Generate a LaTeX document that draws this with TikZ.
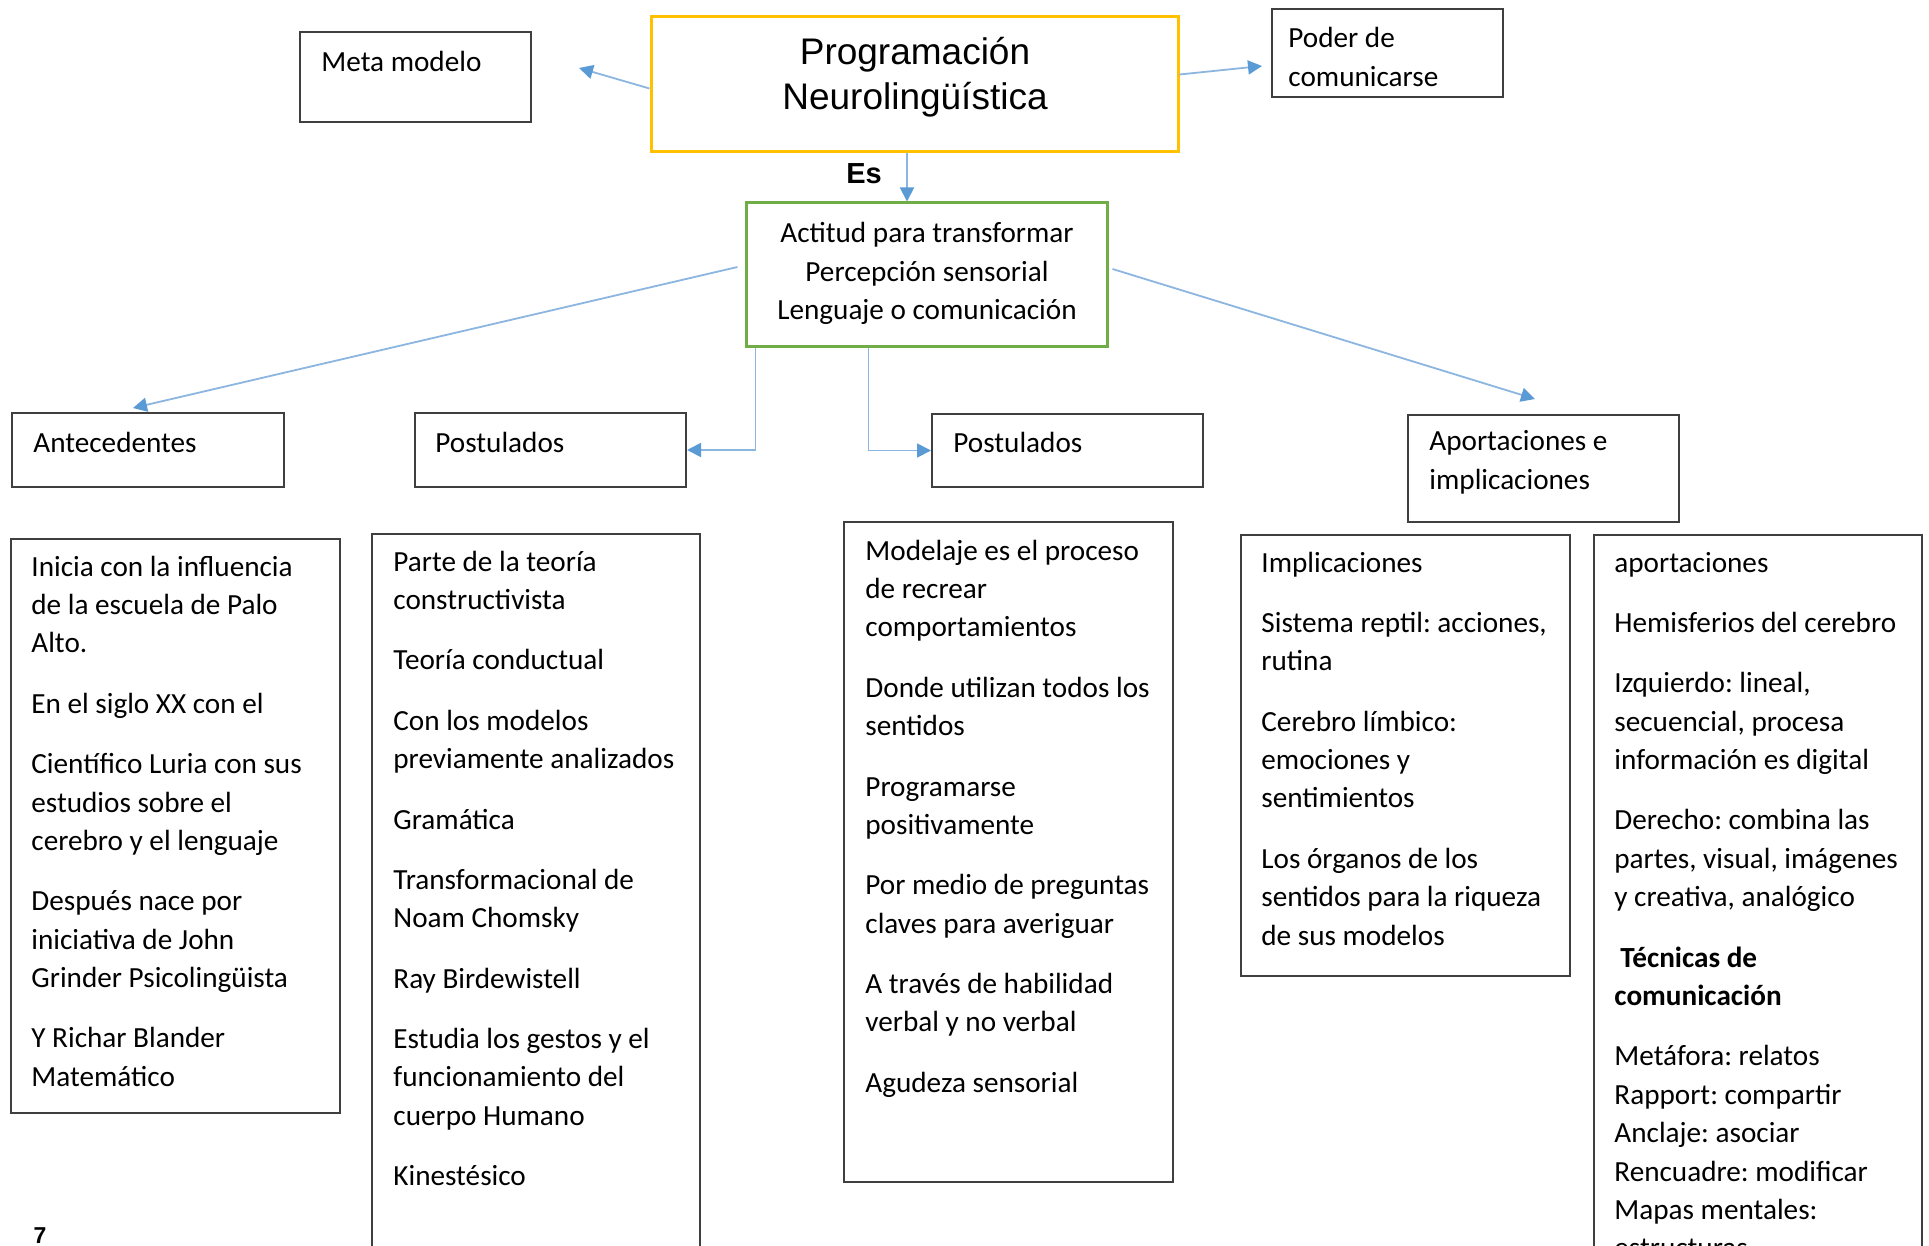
\documentclass[tikz,border=0pt]{standalone}
\usepackage{fontspec}
\setmainfont{Carlito}
\newfontfamily\arialf{Liberation Sans}
\usetikzlibrary{arrows.meta,fit}
\definecolor{boxline}{HTML}{3F3F3F}
\definecolor{titleyellow}{HTML}{FFC000}
\definecolor{midgreen}{HTML}{70AD47}
\definecolor{linkblue}{HTML}{8CB6E0}
\definecolor{tipblue}{HTML}{5B9BD5}
\newcommand{\bodysize}{\fontsize{14.6}{19.2}\selectfont}
\newcommand{\mypgap}{\\[11pt]}
\frenchspacing
\begin{document}
\begin{tikzpicture}[x=0.5pt,y=-0.5pt,
  frame/.style={draw=boxline, line width=1pt, inner sep=0pt},
  textblock/.style={anchor=base west, inner sep=0pt, font=\bodysize},
  link/.style={draw=linkblue, line width=0.9pt, -{Triangle[length=7pt,width=7pt,color=tipblue]}}]
\useasboundingbox (0,0) rectangle (1929,1246);
\clip (0,0) rectangle (1929,1246);
\fill[white] (0,0) rectangle (1929,1246);

% boxes
\node[draw=titleyellow, line width=1.5pt, inner sep=0pt, fit={(651,17) (1178,152)}] (title) {};
\node[draw=midgreen, line width=1.5pt, inner sep=0pt, fit={(746,203) (1107,347)}] (green) {};
\node[frame, fit={(300,32) (531,122)}] (meta) {};
\node[frame, fit={(1272,9) (1503,97)}] (poder) {};
\node[frame, fit={(12,413) (284,487)}] (ant) {};
\node[frame, fit={(415,413) (686,487)}] (post1) {};
\node[frame, fit={(932,414) (1203,487)}] (post2) {};
\node[frame, fit={(1408,415) (1679,522)}] (aport) {};
\node[frame, fit={(11,539) (340,1113)}] (boxA) {};
\node[frame, fit={(372,534) (700,1252)}] (boxB) {};
\node[frame, fit={(844,522) (1173,1182)}] (boxC) {};
\node[frame, fit={(1241,535) (1570,976)}] (boxD) {};
\node[frame, fit={(1594,535) (1922,1262)}] (boxE) {};

% texts
\node[anchor=base, inner sep=0pt, font=\arialf\fontsize{18.5}{22.5}\selectfont] (titletext) at (915,65)
  {\parbox[t]{300pt}{\centering Programación\\Neurolingüística}};
\node[anchor=base, inner sep=0pt, font=\bodysize] (greentext) at (927,243)
  {\parbox[t]{300pt}{\centering Actitud para transformar\\Percepción sensorial\\Lenguaje o comunicación}};
\node[anchor=base, inner sep=0pt, font=\arialf\bfseries\fontsize{14.5}{16}\selectfont] (es) at (864,184) {Es};
\node[textblock] (metatext) at (321,72) {Meta modelo};
\node[textblock] (podertext) at (1288,48) {\parbox[t]{200pt}{Poder de\\comunicarse}};
\node[textblock] (anttext) at (33,452) {Antecedentes};
\node[textblock] (post1text) at (435,452) {Postulados};
\node[textblock] (post2text) at (953,452) {Postulados};
\node[textblock] (aporttext) at (1429,451) {\parbox[t]{200pt}{Aportaciones e\\implicaciones}};

\node[textblock] (textA) at (31,576) {\parbox[t]{300pt}{\raggedright
Inicia con la influencia\\de la escuela de Palo\\Alto.\mypgap
En el siglo XX con el\mypgap
Científico Luria con sus\\estudios sobre el\\cerebro y el lenguaje\mypgap
Después nace por\\iniciativa de John\\Grinder Psicolingüista\mypgap
Y Richar Blander\\Matemático}};

\node[textblock] (textB) at (393,571) {\parbox[t]{300pt}{\raggedright
Parte de la teoría\\constructivista\mypgap
Teoría conductual\mypgap
Con los modelos\\previamente analizados\mypgap
Gramática\mypgap
Transformacional de\\Noam Chomsky\mypgap
Ray Birdewistell\mypgap
Estudia los gestos y el\\funcionamiento del\\cuerpo Humano\mypgap
Kinestésico}};

\node[textblock] (textC) at (865,560) {\parbox[t]{300pt}{\raggedright
Modelaje es el proceso\\de recrear\\comportamientos\mypgap
Donde utilizan todos los\\sentidos\mypgap
Programarse\\positivamente\mypgap
Por medio de preguntas\\claves para averiguar\mypgap
A través de habilidad\\verbal y no verbal\mypgap
Agudeza sensorial}};

\node[textblock] (textD) at (1261,572) {\parbox[t]{300pt}{\raggedright
Implicaciones\mypgap
Sistema reptil: acciones,\\rutina\mypgap
Cerebro límbico:\\emociones y\\sentimientos\mypgap
Los órganos de los\\sentidos para la riqueza\\de sus modelos}};

\node[textblock] (textE) at (1614,572) {\parbox[t]{300pt}{\raggedright
aportaciones\mypgap
Hemisferios del cerebro\mypgap
Izquierdo: lineal,\\secuencial, procesa\\información es digital\mypgap
Derecho: combina las\\partes, visual, imágenes\\y creativa, analógico\mypgap
\hspace*{3pt}\textbf{Técnicas de}\\\textbf{comunicación}\mypgap
Metáfora: relatos\\Rapport: compartir\\Anclaje: asociar\\Rencuadre: modificar\\Mapas mentales:\\estructuras}};

\node[anchor=base, inner sep=0pt, font=\arialf\bfseries\fontsize{11.5}{13}\selectfont] (pagenum) at (40,1243) {7};

% connectors
\coordinate (metatip) at (579,68);
\coordinate (podertip) at (1262,66);
\coordinate (esx) at (907,0);
\coordinate (anttip) at (133,408);
\coordinate (aporttip) at (1535,399);
\draw[link] ([shift={(0,4)}]title.west) -- (metatip);
\draw[link] ([shift={(0,-10)}]title.east) -- (podertip);
\draw[link] (title.south -| esx) -- (green.north -| esx);
\draw[link] ([shift={(-7,-8)}]green.west) -- (anttip);
\draw[link] ([shift={(4,-6)}]green.east) -- (aporttip);
\draw[link] ([shift={(-171,0)}]green.south) |- (post1.east);
\draw[link] ([shift={(-58,0)}]green.south) |- (post2.west);
\end{tikzpicture}
\end{document}
